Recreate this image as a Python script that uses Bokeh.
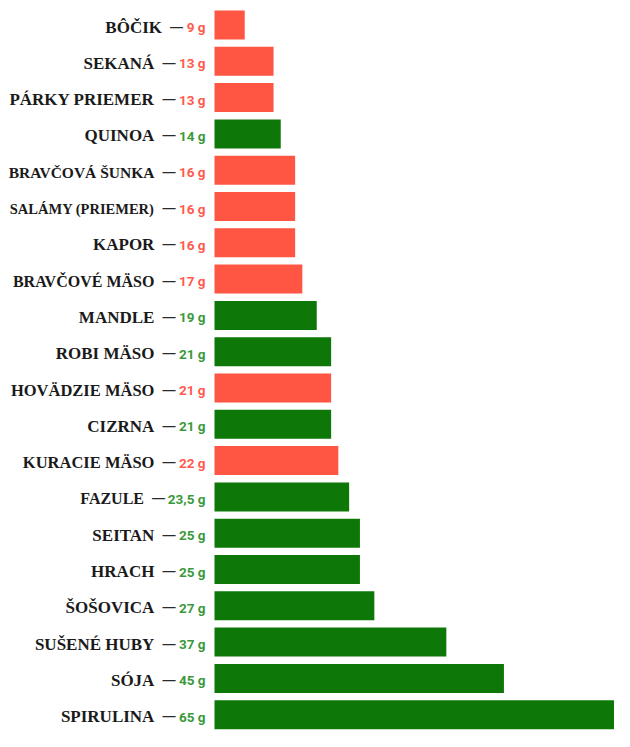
from bokeh.plotting import figure
from bokeh.models import ColumnDataSource, Range1d
from bokeh.core.properties import value
from bokeh.embed import file_html
from bokeh.resources import INLINE

# ---- data ----
names = ["BÔČIK", "SEKANÁ", "PÁRKY PRIEMER", "QUINOA", "BRAVČOVÁ ŠUNKA",
         "SALÁMY (PRIEMER)", "KAPOR", "BRAVČOVÉ MÄSO", "MANDLE", "ROBI MÄSO",
         "HOVÄDZIE MÄSO", "CIZRNA", "KURACIE MÄSO", "FAZULE", "SEITAN",
         "HRACH", "ŠOŠOVICA", "SUŠENÉ HUBY", "SÓJA", "SPIRULINA"]
protein = [9, 13, 13, 14, 16, 16, 16, 17, 19, 21, 21, 21, 22, 23.5, 25, 25, 27, 37, 45, 65]
plant = [False, False, False, True, False, False, False, False, True, True,
         False, True, False, True, True, True, True, True, True, True]

# ---- styles ----
RED_BAR, GREEN_BAR = "#FF5644", "#0D7807"
RED_TXT, GREEN_TXT = "#FF5A4C", "#3A993A"
name_sizes = {"BRAVČOVÁ ŠUNKA": "15.5px", "SALÁMY (PRIEMER)": "14.5px",
              "HOVÄDZIE MÄSO": "16.5px", "BRAVČOVÉ MÄSO": "16px",
              "KURACIE MÄSO": "16.5px", "FAZULE": "16px"}

W, H = 614, 731
PX_PER_G = 7.2          # horizontal scale
BAR_LEFT_PX = 214       # where bars start
X0 = 4.8                # value at bar start
ROW_PX = 36.3
FIRST_PX = 24.5

x_start = X0 - BAR_LEFT_PX / PX_PER_G
x_end = X0 + (W - BAR_LEFT_PX) / PX_PER_G
y_top = -FIRST_PX / ROW_PX
y_bot = y_top + H / ROW_PX

idx = list(range(len(names)))
labels = [("%g" % v).replace(".", ",") + " g" for v in protein]

def est_width(s):
    w = 0.0
    for ch in s:
        if ch.isdigit():
            w += 7.6
        elif ch == "g":
            w += 7.5
        elif ch == ",":
            w += 2.8
        elif ch == " ":
            w += 3.4
    return w

val_off = [-9.0] * len(names)
dash_off = [-9.0 - est_width(s) - 4.0 for s in labels]
name_off = [d - 13.0 - 8.0 for d in dash_off]

src = ColumnDataSource(dict(
    y=idx, v=protein, left=[X0] * len(names), name=names, label=labels,
    dash=["—"] * len(names),
    bar_color=[GREEN_BAR if p else RED_BAR for p in plant],
    txt_color=[GREEN_TXT if p else RED_TXT for p in plant],
    nsize=[name_sizes.get(n, "17px") for n in names],
    val_off=val_off, dash_off=dash_off, name_off=name_off,
))

p = figure(width=W, height=H, output_backend="svg", toolbar_location=None,
           x_range=Range1d(x_start, x_end), y_range=Range1d(y_bot, y_top),
           min_border_left=0, min_border_right=0, min_border_top=0, min_border_bottom=0)
p.axis.visible = False
p.grid.visible = False
p.outline_line_color = None

p.hbar(y="y", left="left", right="v", height=0.80, fill_color="bar_color",
       line_color=None, source=src)

p.text(x="left", y="y", text="label", x_offset="val_off", y_offset=2,
       text_align="right", text_baseline="middle", text_color="txt_color",
       text_font=value("Roboto"), text_font_style="bold",
       text_font_size="13.5px", source=src)
p.text(x="left", y="y", text="dash", x_offset="dash_off", y_offset=1,
       text_align="right", text_baseline="middle", text_color="#2a2a2a",
       text_font=value("Liberation Sans"), text_font_style="bold",
       text_font_size="13px", source=src)
p.text(x="left", y="y", text="name", x_offset="name_off", y_offset=2,
       text_align="right", text_baseline="middle", text_color="#1a1a1a",
       text_font=value("Liberation Serif"), text_font_style="bold",
       text_font_size="nsize", source=src)

open("out.html", "w").write(file_html(p, INLINE))
